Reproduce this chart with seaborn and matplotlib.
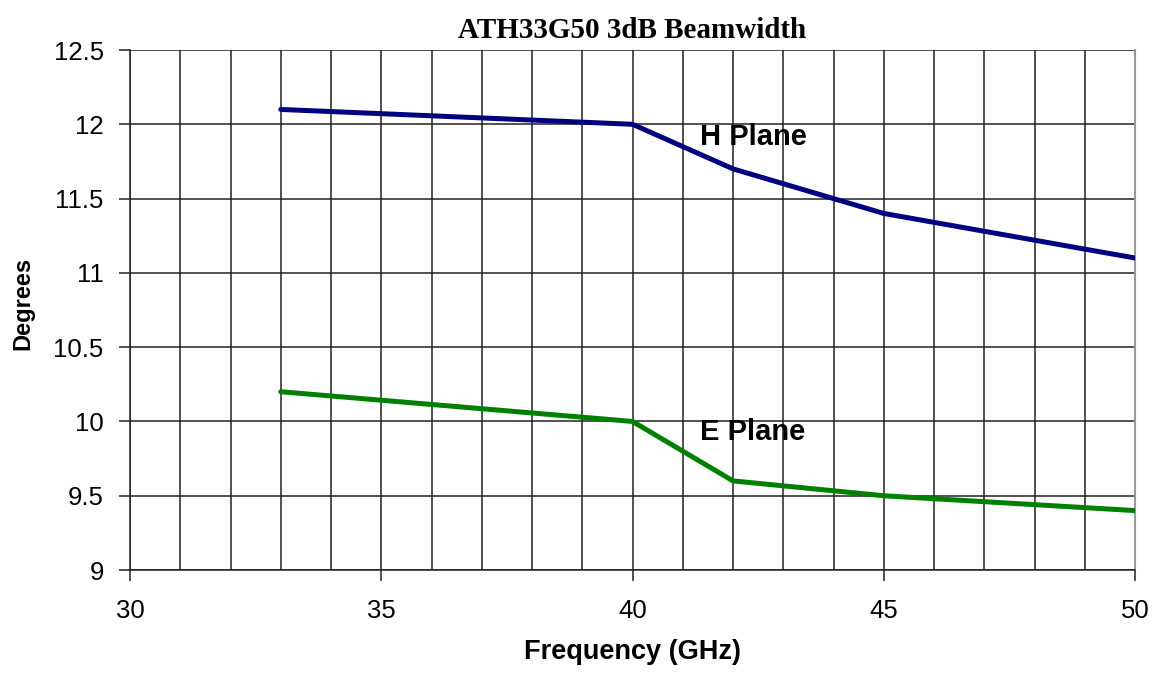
import matplotlib
matplotlib.use("Agg")
import matplotlib.pyplot as plt
import pandas as pd
import seaborn as sns

# Beamwidth readings
freq = [33, 40, 42, 45, 50]
h_plane = [12.1, 12.0, 11.7, 11.4, 11.1]
e_plane = [10.2, 10.0, 9.6, 9.5, 9.4]
planes = ["H Plane", "E Plane"]
colors = {"H Plane": "#000080", "E Plane": "#008000"}

df = pd.DataFrame({
    "Frequency": freq * 2,
    "Degrees": h_plane + e_plane,
    "Plane": [planes[0]] * len(freq) + [planes[1]] * len(freq),
})

sns.set_style("ticks", {"text.color": "black", "axes.labelcolor": "black",
                        "xtick.color": "black", "ytick.color": "black"})
plt.rcParams["font.family"] = ["Liberation Sans", "DejaVu Sans"]

fig = plt.figure(figsize=(11.59, 6.73), dpi=100)
ax = fig.add_axes([0.1122, 0.153, 0.8671, 0.7727])

# grid first so the lines sit on top
for x in range(30, 51):
    ax.axvline(x, color="#222222", lw=1.1, zorder=1)
for i in range(8):
    ax.axhline(9 + 0.5 * i, color="#222222", lw=1.1, zorder=1)

sns.lineplot(data=df, x="Frequency", y="Degrees", hue="Plane",
             palette=colors, linewidth=3.6, legend=False, ax=ax, zorder=3)

ax.set_xlim(30, 50)
ax.set_ylim(9, 12.5)
ax.set_xticks(range(30, 51, 5))
ax.set_yticks([9, 9.5, 10, 10.5, 11, 11.5, 12, 12.5])
ax.set_yticklabels(["9", "9.5", "10", "10.5", "11", "11.5", "12", "12.5"])
ax.tick_params(axis="both", labelsize=18.5, length=8, width=1.1, direction="out", color="#222222")
ax.tick_params(axis="x", pad=13)
ax.tick_params(axis="y", pad=11)

ax.spines["top"].set_visible(False)
ax.spines["right"].set_color("#999999")
ax.spines["right"].set_linewidth(1.5)
for s in ["left", "bottom"]:
    ax.spines[s].set_color("#222222")
    ax.spines[s].set_linewidth(1.1)

ax.set_xlabel("Frequency (GHz)", fontsize=19.5, fontweight="bold")
ax.set_ylabel("Degrees", fontsize=17, fontweight="bold")
ax.xaxis.set_label_coords(0.5, -0.132)
ax.yaxis.set_label_coords(-0.095, 0.512)
ax.set_title("ATH33G50 3dB Beamwidth", fontsize=21, fontweight="bold",
             family="Liberation Serif", pad=9)

ax.text(41.34, 11.915, "H Plane", fontsize=21, fontweight="bold", va="center", zorder=4)
ax.text(41.34, 9.929, "E Plane", fontsize=21, fontweight="bold", va="center", zorder=4)

fig.savefig("out.png", dpi=100)
